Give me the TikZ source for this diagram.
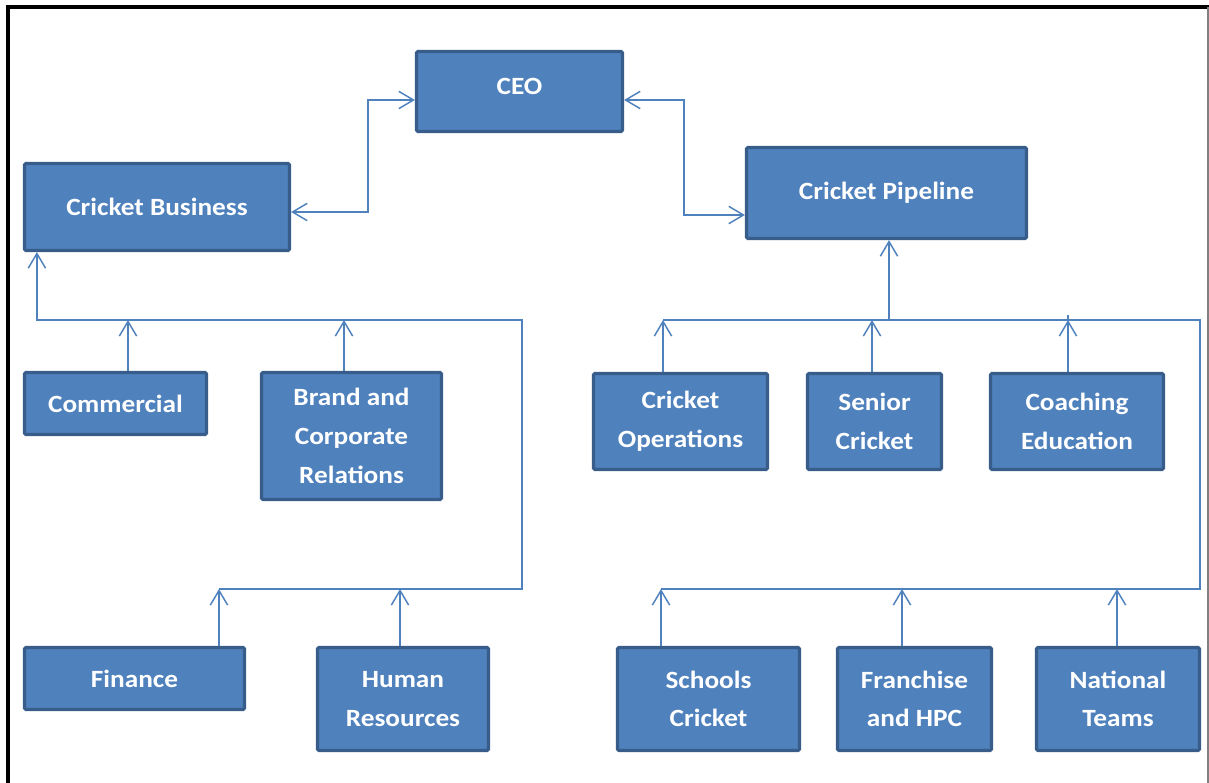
\documentclass[tikz,border=0pt]{standalone}
\usepackage{fontspec}
\setmainfont{Carlito}[FakeStretch=1.1]
\usetikzlibrary{arrows.meta,calc}
\definecolor{boxfill}{RGB}{79,129,189}
\definecolor{boxedge}{RGB}{56,93,138}
\definecolor{linkblue}{RGB}{79,129,189}

% \orgnode{name}{left}{top}{right}{bottom}{text}, in pixel units
\newcommand\orgnode[6]{%
  \node[orgbox, minimum width={(#4-#2)*0.75pt-2.25pt},
        minimum height={(#5-#3)*0.75pt-2.25pt}]
    (#1) at ({(#2+#4)/2},{(#3+#5)/2}) {#6};}

\begin{document}
\begin{tikzpicture}[x=0.75pt,y=-0.75pt,
  orgbox/.style={draw=boxedge, fill=boxfill, line width=2.4pt,
    rounded corners=1pt, text=white, align=center, inner sep=0pt,
    font=\bfseries\fontsize{18.6}{29}\selectfont},
  link/.style={draw=linkblue, line width=1.1pt},
  >={Straight Barb[length=11pt,width=13pt]}]
\useasboundingbox (0,0) rectangle (1209,782);

% page frame
\draw[black, line width=3pt] (8,790) -- (8,7) -- (1215,7);
\draw[gray, line width=0.8pt] (1208,7) -- (1208,790);

% boxes
\orgnode{ceo}{415}{50}{624}{133}{\raisebox{7.5pt}{CEO}}
\orgnode{cb}{23}{162}{291}{252}{Cricket Business}
\orgnode{cp}{745}{146}{1028}{240}{Cricket Pipeline}
\orgnode{com}{23}{371}{208}{436}{Commercial}
\orgnode{brand}{260}{371}{443}{501}{Brand and\\Corporate\\Relations}
\orgnode{ops}{592}{372}{769}{471}{Cricket\\Operations}
\orgnode{sen}{806}{372}{943}{471}{Senior\\Cricket}
\orgnode{coach}{989}{372}{1165}{471}{Coaching\\Education}
\orgnode{fin}{23}{646}{246}{711}{Finance}
\orgnode{hr}{316}{646}{490}{752}{Human\\Resources}
\orgnode{sch}{616}{646}{801}{752}{Schools\\Cricket}
\orgnode{fr}{836}{646}{993}{752}{Franchise\\and HPC}
\orgnode{nat}{1035}{646}{1201}{752}{National\\Teams}

% CEO links
\draw[link,<->] ($(cb.east)+(0,5)$) -| (368,100) -- ($(ceo.west)+(0,8.5)$);
\draw[link,<->] ($(ceo.east)+(0,8.5)$) -| (684,215) -- ($(cp.west)+(0,22)$);

% business tree
\draw[link,<-] ($(cb.south west)+(14,0)$) |- (522,320) |- (219,589);
\draw[link,->] (com.north -| 128,0) -- (128,320);
\draw[link,->] (brand.north -| 344,0) -- (344,320);
\draw[link,->] (fin.north -| 219,0) -- (219,589);
\draw[link,->] (hr.north -| 400,0) -- (400,589);

% pipeline tree
\draw[link,->] (889,320) -- (cp.south -| 889,0);
\draw[link] (663,320) -- (1200,320) |- (661,589);
\draw[link,->] (ops.north -| 663,0) -- (663,320);
\draw[link,->] (sen.north -| 872,0) -- (872,320);
\draw[link,->] (coach.north -| 1068,0) -- (1068,320);
\draw[link] (1068,320) -- (1068,315);
\draw[link,->] (sch.north -| 661,0) -- (661,589);
\draw[link,->] (fr.north -| 902,0) -- (902,589);
\draw[link,->] (nat.north -| 1117,0) -- (1117,589);
\end{tikzpicture}
\end{document}
